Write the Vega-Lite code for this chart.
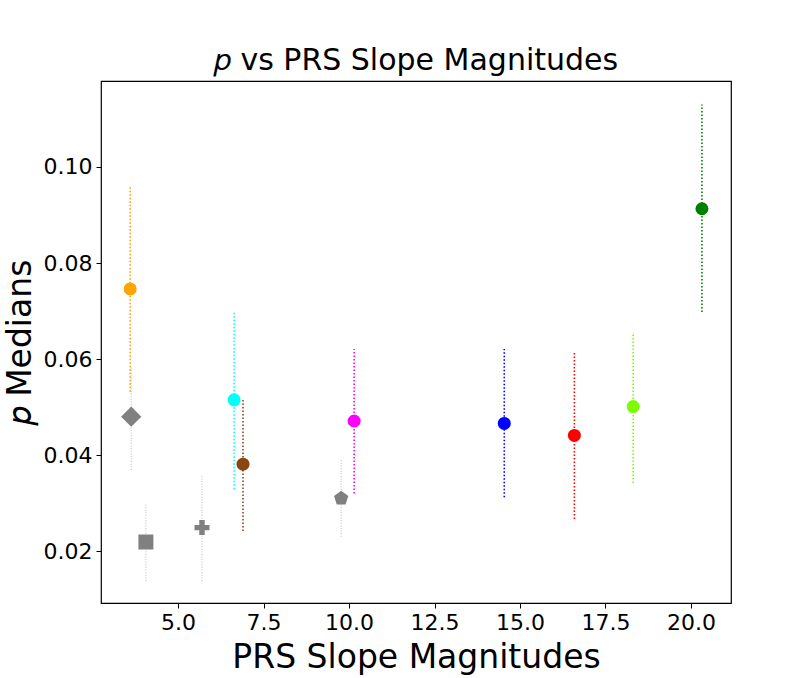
{
  "$schema": "https://vega.github.io/schema/vega-lite/v6.json",
  "autosize": "none",
  "padding": {"left": 101, "top": 81, "right": 80, "bottom": 75},
  "width": 630,
  "height": 522,
  "background": "white",
  "config": {
    "font": "DejaVu Sans",
    "view": {"stroke": "black", "strokeWidth": 1.2},
    "axis": {
      "grid": false,
      "domain": false,
      "tickColor": "black",
      "tickSize": 5,
      "tickWidth": 1,
      "labelColor": "black",
      "labelFont": "DejaVu Sans",
      "labelFontSize": 22,
      "labelPadding": 4,
      "titleColor": "black",
      "titleFont": "DejaVu Sans",
      "titleFontSize": 33,
      "titleFontWeight": "normal"
    }
  },
  "title": {
    "text": "𝑝 vs PRS Slope Magnitudes",
    "font": "DejaVu Sans",
    "fontSize": 30,
    "fontWeight": "normal",
    "color": "black",
    "anchor": "middle",
    "offset": 5
  },
  "data": {
    "values": [
      {"series": "orange", "kind": "circle", "slope": 3.60, "median": 0.0746, "lo": 0.0532, "hi": 0.0959},
      {"series": "gray diamond", "kind": "diamond", "slope": 3.63, "median": 0.0480, "lo": 0.0369, "hi": 0.0583},
      {"series": "gray square", "kind": "square", "slope": 4.06, "median": 0.0219, "lo": 0.0138, "hi": 0.0299},
      {"series": "gray plus", "kind": "plus", "slope": 5.70, "median": 0.0249, "lo": 0.0138, "hi": 0.0358},
      {"series": "cyan", "kind": "circle", "slope": 6.64, "median": 0.0515, "lo": 0.0329, "hi": 0.0697},
      {"series": "saddlebrown", "kind": "circle", "slope": 6.90, "median": 0.0381, "lo": 0.0242, "hi": 0.0518},
      {"series": "gray pentagon", "kind": "pentagon", "slope": 9.77, "median": 0.0310, "lo": 0.0230, "hi": 0.0390},
      {"series": "magenta", "kind": "circle", "slope": 10.15, "median": 0.0471, "lo": 0.0320, "hi": 0.0621},
      {"series": "blue", "kind": "circle", "slope": 14.54, "median": 0.0466, "lo": 0.0312, "hi": 0.0621},
      {"series": "red", "kind": "circle", "slope": 16.59, "median": 0.0441, "lo": 0.0267, "hi": 0.0615},
      {"series": "lawngreen", "kind": "circle", "slope": 18.31, "median": 0.0501, "lo": 0.0342, "hi": 0.0656},
      {"series": "green", "kind": "circle", "slope": 20.32, "median": 0.0913, "lo": 0.0698, "hi": 0.1130}
    ]
  },
  "encoding": {
    "x": {
      "field": "slope",
      "type": "quantitative",
      "title": "PRS Slope Magnitudes",
      "scale": {"domain": [2.747, 21.17], "nice": false, "zero": false},
      "axis": {"values": [5, 7.5, 10, 12.5, 15, 17.5, 20], "format": ".1f", "titlePadding": 8}
    },
    "y": {
      "field": "median",
      "type": "quantitative",
      "title": "𝑝 Medians",
      "scale": {"domain": [0.0092, 0.1179], "nice": false, "zero": false},
      "axis": {"values": [0.02, 0.04, 0.06, 0.08, 0.1], "format": ".2f", "titlePadding": 6}
    },
    "color": {
      "field": "series",
      "type": "nominal",
      "legend": null,
      "scale": {
        "domain": ["orange", "gray diamond", "gray square", "gray plus", "cyan", "saddlebrown", "gray pentagon", "magenta", "blue", "red", "lawngreen", "green"],
        "range": ["#ffa500", "#808080", "#808080", "#808080", "#00ffff", "#8b4513", "#808080", "#ff00ff", "#0000ff", "#ff0000", "#7cfc00", "#008000"]
      }
    }
  },
  "layer": [
    {
      "transform": [{"filter": "datum.kind == 'circle'"}],
      "mark": {"type": "rule", "strokeWidth": 1.6, "strokeDash": [1.5, 2]},
      "encoding": {"y": {"field": "lo", "type": "quantitative"}, "y2": {"field": "hi"}}
    },
    {
      "transform": [{"filter": "datum.kind != 'circle'"}],
      "mark": {"type": "rule", "strokeWidth": 1, "strokeDash": [1, 1.6], "opacity": 0.55},
      "encoding": {"y": {"field": "lo", "type": "quantitative"}, "y2": {"field": "hi"}}
    },
    {
      "transform": [{"filter": "datum.kind == 'circle'"}],
      "mark": {"type": "point", "shape": "circle", "filled": true, "opacity": 1, "size": 170}
    },
    {
      "transform": [{"filter": "datum.kind != 'circle'"}],
      "mark": {"type": "point", "filled": true, "opacity": 1, "size": 225},
      "encoding": {
        "shape": {
          "field": "kind",
          "type": "nominal",
          "legend": null,
          "scale": {
            "domain": ["diamond", "square", "plus", "pentagon"],
            "range": [
              "M-1.35,0L0,-1.35L1.35,0L0,1.35Z",
              "square",
              "M-1,-0.36H-0.36V-1H0.36V-0.36H1V0.36H0.36V1H-0.36V0.36H-1Z",
              "M0,-1L0.951,-0.309L0.588,0.809L-0.588,0.809L-0.951,-0.309Z"
            ]
          }
        }
      }
    }
  ]
}
